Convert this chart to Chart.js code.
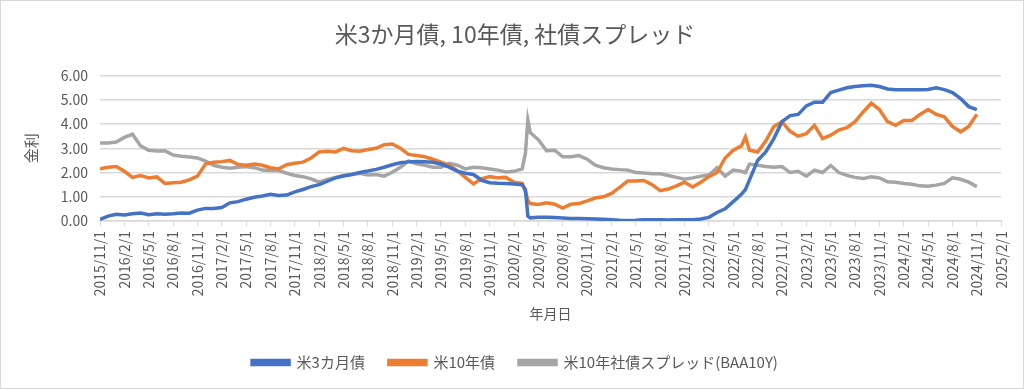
<!DOCTYPE html>
<html lang="ja">
<head>
  <meta charset="UTF-8">
  <title>米3か月債, 10年債, 社債スプレッド</title>
  <script src="https://cdn.jsdelivr.net/npm/chart.js"></script>
  <style>
    body {
      margin: 0;
      background: #fff;
    }
    .frame {
      width: 1024px;
      height: 389px;
      box-sizing: border-box;
      border: 1px solid #d9d9d9;
      background: #fff;
    }
    canvas {
      display: block;
    }
  </style>
</head>
<body>
  <div class="frame">
    <canvas id="rateChart" width="1022" height="387"></canvas>
  </div>

  <script>
    // months since 2015/11/1 (a few extra points where the lines jump)
    const months = [
      0, 1, 2, 3, 4, 5, 6, 7, 8, 9, 10, 11, 12, 13, 14, 15, 16, 17, 18, 19,
      20, 21, 22, 23, 24, 25, 26, 27, 28, 29, 30, 31, 32, 33, 34, 35, 36, 37, 38, 39,
      40, 41, 42, 43, 44, 45, 46, 47, 48, 49, 50, 51, 52, 52.4, 52.7, 53, 54, 55, 56, 57,
      58, 59, 60, 61, 62, 63, 64, 65, 66, 67, 68, 69, 70, 71, 72, 73, 74, 75, 76, 77,
      78, 79, 79.5, 80, 81, 82, 83, 84, 85, 86, 87, 88, 89, 90, 91, 92, 93, 94, 95, 96,
      97, 98, 99, 100, 101, 102, 103, 104, 105, 106, 107, 108
    ];

    const bill3m = [
      0.07, 0.20, 0.28, 0.25, 0.30, 0.33, 0.26, 0.30, 0.28, 0.30, 0.33, 0.32, 0.45, 0.52, 0.52, 0.56, 0.75, 0.80, 0.90, 0.98,
      1.03, 1.10, 1.05, 1.07, 1.20, 1.30, 1.42, 1.50, 1.64, 1.78, 1.86, 1.92, 2.00, 2.06, 2.13, 2.22, 2.32, 2.40, 2.44, 2.46,
      2.44, 2.42, 2.35, 2.22, 2.06, 1.97, 1.92, 1.68, 1.58, 1.56, 1.55, 1.53, 1.50, 1.30, 0.20, 0.13, 0.15, 0.15, 0.14, 0.12,
      0.10, 0.10, 0.09, 0.08, 0.07, 0.05, 0.03, 0.02, 0.03, 0.05, 0.05, 0.05, 0.04, 0.05, 0.05, 0.05, 0.08, 0.15, 0.35, 0.50,
      0.80, 1.10, 1.30, 1.70, 2.50, 2.85, 3.40, 4.10, 4.35, 4.40, 4.75, 4.90, 4.90, 5.30, 5.40, 5.50, 5.55, 5.58, 5.60, 5.55,
      5.45, 5.42, 5.42, 5.42, 5.42, 5.43, 5.50, 5.42, 5.30, 5.05, 4.72, 4.60
    ];

    const note10y = [
      2.15, 2.22, 2.25, 2.05, 1.80, 1.88, 1.78, 1.82, 1.55, 1.58, 1.60, 1.70, 1.85, 2.35, 2.42, 2.45, 2.50, 2.33, 2.30, 2.35,
      2.30, 2.20, 2.15, 2.32, 2.38, 2.43, 2.60, 2.85, 2.88, 2.85, 3.00, 2.90, 2.88, 2.95, 3.00, 3.15, 3.18, 3.00, 2.75, 2.70,
      2.65, 2.55, 2.43, 2.30, 2.08, 1.80, 1.53, 1.74, 1.83, 1.78, 1.80, 1.60, 1.55, 1.20, 0.85, 0.72, 0.68, 0.75, 0.69, 0.53,
      0.69, 0.72, 0.83, 0.95, 1.00, 1.14, 1.39, 1.65, 1.65, 1.67, 1.50, 1.25, 1.32, 1.45, 1.60, 1.40, 1.60, 1.83, 2.00, 2.60,
      2.92, 3.10, 3.47, 2.92, 2.85, 3.30, 3.90, 4.10, 3.70, 3.50, 3.60, 3.95, 3.40, 3.54, 3.75, 3.85, 4.10, 4.50, 4.86, 4.60,
      4.10, 3.95, 4.15, 4.15, 4.40, 4.60, 4.40, 4.30, 3.90, 3.68, 3.90, 4.40
    ];

    const spreadBaa = [
      3.22, 3.22, 3.26, 3.45, 3.58, 3.10, 2.92, 2.89, 2.90, 2.72, 2.67, 2.64, 2.60, 2.47, 2.30, 2.22, 2.18, 2.22, 2.25, 2.20,
      2.10, 2.08, 2.08, 1.97, 1.88, 1.83, 1.74, 1.60, 1.72, 1.80, 1.88, 1.92, 1.97, 1.90, 1.92, 1.85, 2.01, 2.22, 2.48, 2.36,
      2.30, 2.22, 2.22, 2.38, 2.30, 2.15, 2.22, 2.20, 2.15, 2.10, 2.02, 2.05, 2.15, 2.80, 4.17, 3.65, 3.35, 2.90, 2.92, 2.65,
      2.65, 2.70, 2.55, 2.30, 2.20, 2.15, 2.12, 2.10, 2.00, 1.98, 1.95, 1.95, 1.88, 1.80, 1.72, 1.78, 1.85, 1.90, 2.20, 1.85,
      2.10, 2.05, 2.00, 2.35, 2.30, 2.25, 2.22, 2.25, 2.00, 2.05, 1.85, 2.10, 2.00, 2.29, 2.00, 1.88, 1.80, 1.75, 1.82, 1.78,
      1.62, 1.60, 1.55, 1.52, 1.45, 1.43, 1.48, 1.55, 1.78, 1.72, 1.60, 1.42
    ];

    const tickLabels = [
      '2015/11/1', '2016/2/1', '2016/5/1', '2016/8/1', '2016/11/1', '2017/2/1', '2017/5/1', '2017/8/1',
      '2017/11/1', '2018/2/1', '2018/5/1', '2018/8/1', '2018/11/1', '2019/2/1', '2019/5/1', '2019/8/1',
      '2019/11/1', '2020/2/1', '2020/5/1', '2020/8/1', '2020/11/1', '2021/2/1', '2021/5/1', '2021/8/1',
      '2021/11/1', '2022/2/1', '2022/5/1', '2022/8/1', '2022/11/1', '2023/2/1', '2023/5/1', '2023/8/1',
      '2023/11/1', '2024/2/1', '2024/5/1', '2024/8/1', '2024/11/1', '2025/2/1'
    ];

    const seriesNames = ['米3カ月債', '米10年債', '米10年社債スプレッド(BAA10Y)'];
    const seriesColors = ['#4472C4', '#ED7D31', '#A5A5A5'];
    const seriesValues = [bill3m, note10y, spreadBaa];

    const FONT = "'Noto Sans CJK JP', 'Noto Sans', sans-serif";
    const TEXT = '#595959';
    const LINE = '#d9d9d9';

    const datasets = seriesValues.map((vals, i) => ({
      label: seriesNames[i],
      data: months.map((m, j) => ({ x: m, y: vals[j] })),
      borderColor: seriesColors[i],
      backgroundColor: seriesColors[i],
      borderWidth: 3.5,
      pointRadius: 0,
      tension: 0,
      fill: false
    }));

    new Chart(document.getElementById('rateChart'), {
      type: 'line',
      data: { datasets },
      options: {
        responsive: false,
        animation: false,
        layout: { padding: { left: 21, right: 15, top: 0, bottom: 8 } },
        plugins: {
          title: {
            display: true,
            text: '米3か月債, 10年債, 社債スプレッド',
            color: TEXT,
            font: { family: FONT, size: 23, weight: 'normal' },
            padding: { top: 19, bottom: 28 }
          },
          legend: {
            position: 'bottom',
            labels: {
              color: TEXT,
              font: { family: FONT, size: 15 },
              boxWidth: 37,
              boxHeight: 4,
              padding: 24
            }
          },
          tooltip: { enabled: false }
        },
        scales: {
          x: {
            type: 'linear',
            min: 0,
            max: 111,
            grid: {
              drawOnChartArea: false,
              drawTicks: true,
              tickLength: 5,
              color: LINE
            },
            border: { display: true, color: LINE, width: 1.5 },
            ticks: {
              stepSize: 3,
              autoSkip: false,
              minRotation: 90,
              maxRotation: 90,
              padding: 5,
              color: TEXT,
              font: { family: FONT, size: 14 },
              callback: v => tickLabels[Math.round(v / 3)]
            },
            title: {
              display: true,
              text: '年月日',
              color: TEXT,
              font: { family: FONT, size: 14 },
              padding: { top: 4, bottom: 9 }
            },
            afterFit: scale => { scale.height = 110; }
          },
          y: {
            min: 0,
            max: 6,
            grid: { color: LINE, lineWidth: 1.5, drawTicks: false },
            border: { display: false },
            ticks: {
              stepSize: 1,
              padding: 12,
              color: TEXT,
              font: { family: FONT, size: 14 },
              callback: v => v.toFixed(2)
            },
            title: {
              display: true,
              text: '金利',
              color: TEXT,
              font: { family: FONT, size: 15 },
              padding: { top: 0, bottom: 0 }
            },
            afterFit: scale => { scale.width = 78; }
          }
        }
      }
    });
  </script>
</body>
</html>
